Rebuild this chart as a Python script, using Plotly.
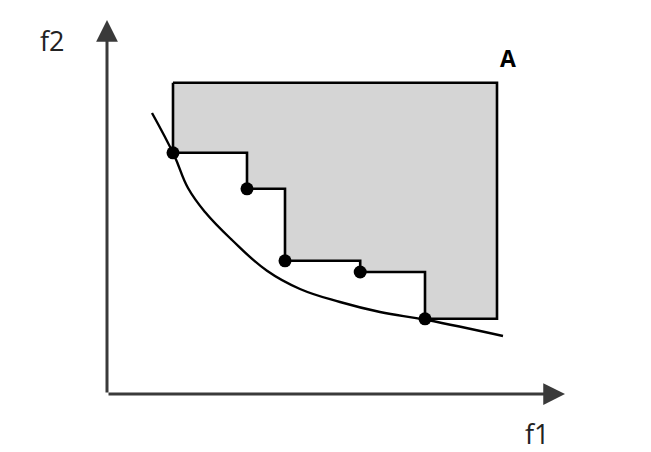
import plotly.graph_objects as go

# Pareto front points (f1, f2)
pts_f1 = [1.65, 3.50, 4.45, 6.33, 7.95]
pts_f2 = [6.03, 5.13, 3.33, 3.05, 1.88]

# reference point A
ref_f1 = 9.75
ref_f2 = 7.78

# true Pareto curve samples
curve_f1 = [1.125, 1.675, 2.025, 2.45, 3.125, 4.0, 4.825, 5.825, 6.825, 8.0, 9.9]
curve_f2 = [7.025, 5.975, 5.15, 4.55, 3.85, 3.08, 2.625, 2.3, 2.05, 1.85, 1.45]

# axis extents (arrow tips)
x_tip = 11.45
y_tip = 9.35

# dominated region polygon (staircase up to reference point)
poly_x = [pts_f1[0], ref_f1, ref_f1]
poly_y = [ref_f2, ref_f2, pts_f2[-1]]
for k in range(len(pts_f1) - 1, 0, -1):
    poly_x += [pts_f1[k], pts_f1[k]]
    poly_y += [pts_f2[k], pts_f2[k - 1]]
poly_x += [pts_f1[0], pts_f1[0]]
poly_y += [pts_f2[0], ref_f2]

fig = go.Figure()
fig.add_trace(go.Scatter(x=poly_x, y=poly_y, mode="lines", fill="toself",
                         fillcolor="#d5d5d5", line=dict(color="black", width=2.6),
                         hoverinfo="skip"))
fig.add_trace(go.Scatter(x=curve_f1, y=curve_f2, mode="lines",
                         line=dict(color="black", width=2.4, shape="spline", smoothing=1.2),
                         hoverinfo="skip"))
fig.add_trace(go.Scatter(x=pts_f1, y=pts_f2, mode="markers",
                         marker=dict(color="black", size=13)))

axis_color = "#3a3a3a"
fig.add_annotation(x=x_tip, y=0, ax=0, ay=0, xref="x", yref="y", axref="x", ayref="y",
                   showarrow=True, arrowhead=2, arrowsize=1.45, arrowwidth=3,
                   arrowcolor=axis_color, text="")
fig.add_annotation(x=0, y=y_tip, ax=0, ay=0, xref="x", yref="y", axref="x", ayref="y",
                   showarrow=True, arrowhead=2, arrowsize=1.45, arrowwidth=3,
                   arrowcolor=axis_color, text="")

fig.add_annotation(x=-1.375, y=8.83, text="f2", showarrow=False,
                   font=dict(family="Open Sans", size=27, color="#222"))
fig.add_annotation(x=10.75, y=-0.98, text="f1", showarrow=False,
                   font=dict(family="Open Sans", size=27, color="#222"))
fig.add_annotation(x=10.03, y=8.4, text="<b>A</b>", showarrow=False,
                   font=dict(family="Open Sans", size=23, color="black"))

fig.update_layout(
    width=643, height=444,
    margin=dict(l=0, r=0, t=0, b=0),
    paper_bgcolor="white", plot_bgcolor="white",
    showlegend=False,
    xaxis=dict(range=[-2.475, 13.6], visible=False, fixedrange=True),
    yaxis=dict(range=[-1.45, 9.65], visible=False, fixedrange=True),
)
fig.write_html("out.html")
